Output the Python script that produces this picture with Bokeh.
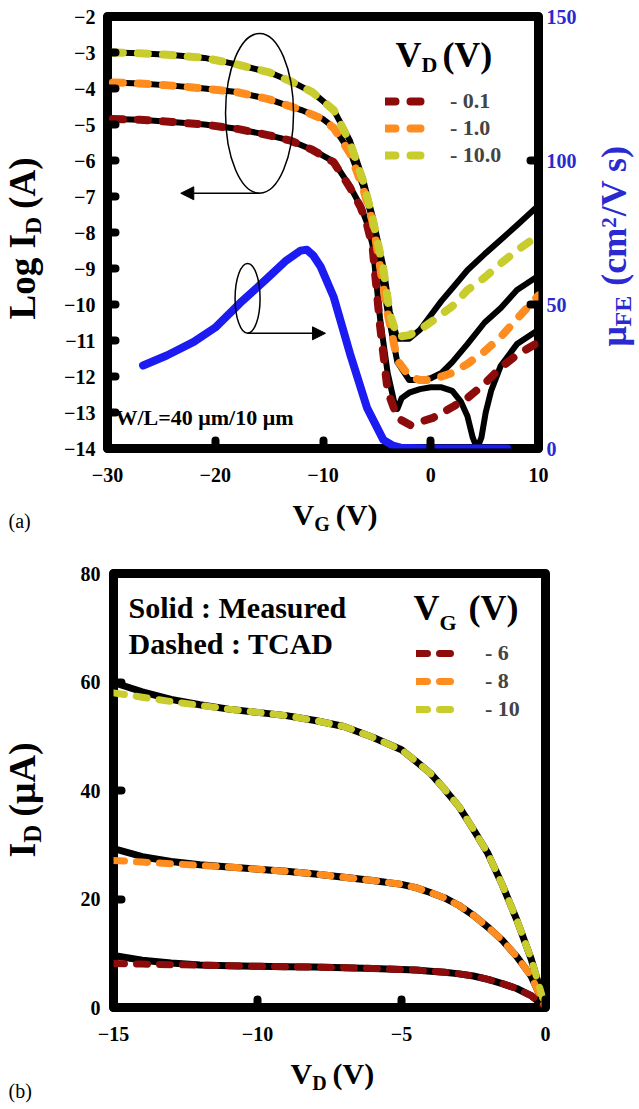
import math
from bokeh.plotting import figure
from bokeh.models import (Range1d, LinearAxis, FixedTicker, Label, Legend, LegendItem,
                          Arrow, NormalHead)
from bokeh.layouts import column, row
from bokeh.embed import file_html
from bokeh.resources import INLINE

FONT = "Liberation Serif"

# ---------------- (a) transfer characteristics ----------------
# V_D = -10 V
vg_m10 = [-29.5, -27, -24, -21, -18, -15, -13, -11, -9, -7.5, -6.3, -5.4, -4.4, -3.8, -3.1, -2, -1, 0, 1, 2, 3.4, 5, 6.5, 8, 10]
log_m10 = [-3.0, -3.02, -3.07, -3.15, -3.33, -3.55, -3.8, -4.1, -4.6, -5.45, -6.5, -7.55, -8.95, -10.2, -10.95, -10.95, -10.7, -10.3, -9.9, -9.55, -9.05, -8.6, -8.2, -7.8, -7.25]
vg_t10 = [-29.5, -27, -24, -21, -18, -15, -13, -11, -9, -7.5, -6.3, -5.4, -4.4, -3.8, -3.1, -2, -1, 0.2, 2, 3.4, 5, 6.5, 8, 10]
log_t10 = [-3.0, -3.02, -3.07, -3.15, -3.33, -3.55, -3.8, -4.1, -4.6, -5.5, -6.55, -7.6, -9.0, -10.25, -10.9, -10.85, -10.7, -10.45, -10.05, -9.6, -9.25, -8.86, -8.5, -8.08]
# V_D = -1.0 V
vg_1 = [-29.5, -27, -24, -21, -18, -15, -12, -10, -9, -7.5, -6.3, -5.4, -5.0, -4.0, -3.1, -2, -1, 0, 1, 2, 3.4, 5, 6.5, 8, 10]
log_m1 = [-3.83, -3.86, -3.92, -4.0, -4.1, -4.3, -4.6, -4.85, -5.08, -5.75, -6.7, -7.65, -8.35, -10.2, -11.6, -12.1, -12.1, -12.05, -11.9, -11.6, -11.1, -10.5, -10.1, -9.6, -9.2]
log_t1 = [-3.83, -3.86, -3.92, -4.0, -4.1, -4.3, -4.6, -4.85, -5.1, -5.8, -6.75, -7.7, -8.4, -10.25, -11.55, -12.0, -12.1, -12.1, -12.0, -11.9, -11.65, -11.3, -10.9, -10.4, -9.75]
# V_D = -0.1 V
vg_m01 = [-29.5, -27, -24, -21, -18, -15, -13, -11, -9, -7.5, -6.5, -5.9, -5.4, -4.7, -4.0, -3.4, -3.1, -2.7, -2, -1, 0, 1, 2, 2.8, 3.4, 3.9, 4.3, 4.7, 5.1, 5.6, 6.5, 8, 10]
log_m01 = [-4.85, -4.87, -4.93, -5.0, -5.12, -5.3, -5.45, -5.7, -6.03, -6.72, -7.27, -7.75, -8.35, -10.4, -11.9, -12.7, -12.9, -12.6, -12.45, -12.35, -12.3, -12.3, -12.4, -12.7, -13.1, -13.7, -14.0, -13.7, -13.0, -12.4, -11.7, -11.1, -10.7]
vg_t01 = [-29.5, -27, -24, -21, -18, -15, -13, -11, -9, -7.5, -6.5, -5.9, -5.4, -4.7, -4.0, -3.1, -1.9, 0.2, 2, 3.4, 5, 6.5, 8, 10]
log_t01 = [-4.85, -4.87, -4.93, -5.0, -5.12, -5.3, -5.45, -5.7, -6.05, -6.75, -7.3, -7.8, -8.4, -10.6, -12.4, -13.15, -13.35, -13.15, -12.85, -12.6, -12.2, -11.75, -11.4, -11.05]
# field-effect mobility (right axis)
vg_mu = [-26.7, -24.5, -22, -20, -17.7, -15.2, -13.5, -12.1, -11.5, -10.9, -10.2, -9.0, -7.5, -5.9, -4.4, -3.5, -2.8, 0, 4, 7.1]
mu = [28.8, 32.3, 37, 42, 50.5, 59, 65, 68.7, 69, 67, 63, 52.5, 33, 14, 3, 1, 0.3, 0, 0, 0]

xticks_a = [-30, -20, -10, 0, 10]
yticks_a = list(range(-14, -1))
mu_ticks = [0, 50, 100, 150]
vd_labels_a = ["- 0.1", "- 1.0", "- 10.0"]

# ---------------- (b) output characteristics ----------------
vd = [-15, -14, -13, -12, -11, -10, -9, -8, -7, -6, -5, -4.5, -4, -3.5, -3, -2.5, -2, -1.5, -1, -0.5, 0]
id_t10 = [58.0, 57.2, 56.4, 55.7, 55.0, 54.4, 53.8, 52.9, 51.8, 49.8, 47.5, 45.4, 43.2, 40.2, 37.0, 32.8, 28.4, 22.6, 16.2, 9.0, 0]
id_m10 = [59.9, 58.2, 56.8, 55.8, 55.0, 54.4, 53.8, 52.9, 51.8, 49.8, 47.5, 45.4, 43.2, 40.2, 37.0, 32.8, 28.4, 22.6, 16.2, 9.0, 0]
id_t8 = [27.1, 26.8, 26.5, 26.2, 25.9, 25.5, 25.1, 24.6, 24.0, 23.4, 22.7, 22.1, 21.2, 20.2, 18.8, 17.0, 14.8, 12.4, 9.4, 5.8, 0]
id_m8 = [29.3, 27.8, 26.9, 26.3, 25.9, 25.5, 25.1, 24.6, 24.0, 23.4, 22.7, 22.1, 21.2, 20.2, 18.8, 17.0, 14.8, 12.4, 9.4, 5.8, 0]
id_t6 = [8.1, 8.0, 7.9, 7.8, 7.7, 7.6, 7.5, 7.45, 7.35, 7.2, 7.0, 6.9, 6.7, 6.5, 6.2, 5.8, 5.2, 4.4, 3.5, 2.2, 0]
id_m6 = [9.6, 8.7, 8.2, 7.85, 7.7, 7.6, 7.5, 7.45, 7.35, 7.2, 7.0, 6.9, 6.7, 6.5, 6.2, 5.8, 5.2, 4.4, 3.5, 2.2, 0]

xticks_b = [-15, -10, -5, 0]
yticks_b = [0, 20, 40, 60, 80]
vg_labels_b = ["- 6", "- 8", "- 10"]

C_RED = "#8e0b0b"
C_ORG = "#ff8c1e"
C_YEL = "#c8cc2c"
C_BLUE = "#1b1bf2"
C_AXBLUE = "#2a2ad0"

# Times/Liberation Serif Bold advance widths (per 1000 em)
WID = {' ': 250, '(': 333, ')': 333, '-': 333, '.': 250, '/': 278, ':': 333, '=': 570,
       'A': 722, 'C': 722, 'D': 722, 'E': 667, 'F': 611, 'G': 778, 'I': 389, 'L': 667,
       'M': 944, 'S': 556, 'T': 667, 'V': 722, 'W': 1000, 'a': 500, 'c': 444, 'd': 556,
       'e': 444, 'g': 500, 'h': 556, 'i': 278, 'l': 278, 'm': 833, 'o': 500, 'r': 444,
       's': 389, 'u': 556, 'μ': 556, 'b': 556}
BASE_FIX = 0.35  # observed offset of the rendered baseline, in em


def tw(s, size):
    return sum(WID.get(ch, 500) for ch in s) * size / 1000.0


def rich(p, x, y, parts, angle=0.0, color="black", style="bold"):
    """(x, y): wanted baseline start in screen px of the frame (y up)."""
    c, s = math.cos(angle), math.sin(angle)
    pos = 0.0
    for text, size, shift, gap in parts:
        up = shift + BASE_FIX * size
        lx = x + pos * c - up * s
        ly = y + pos * s + up * c
        p.add_layout(Label(x=lx, y=ly, x_units="screen", y_units="screen", text=text,
                           angle=angle, text_font=FONT, text_font_style=style,
                           text_font_size=f"{size}px", text_color=color,
                           text_baseline="alphabetic", text_align="left"))
        pos += tw(text, size) + gap


def style_axis(ax, ticks, color="black", standoff=10):
    ax.ticker = FixedTicker(ticks=ticks)
    ax.axis_line_color = None
    ax.major_tick_in = 8
    ax.major_tick_out = 0
    ax.major_tick_line_width = 8
    ax.major_tick_line_cap = "round"
    ax.major_tick_line_color = "black"
    ax.minor_tick_line_color = None
    ax.major_label_text_font = FONT
    ax.major_label_text_font_style = "bold"
    ax.major_label_text_font_size = "20px"
    ax.major_label_text_color = color
    ax.major_label_standoff = standoff


def base_fig(fw, fh, xr, yr, bl, br, bt, bb):
    p = figure(frame_width=fw, frame_height=fh, x_range=Range1d(*xr), y_range=Range1d(*yr),
               output_backend="svg", toolbar_location=None,
               min_border_left=bl, min_border_right=br, min_border_top=bt, min_border_bottom=bb)
    p.xgrid.visible = False
    p.ygrid.visible = False
    p.outline_line_color = "black"
    p.outline_line_width = 9
    p.outline_line_join = "round"
    p.background_fill_color = "white"
    p.border_fill_color = "white"
    return p


def text_fig(w, h):
    f = figure(frame_width=w, frame_height=h, x_range=Range1d(0, 1), y_range=Range1d(0, 1),
               x_axis_location=None, y_axis_location=None, output_backend="svg",
               toolbar_location=None, min_border=0)
    f.grid.grid_line_color = None
    f.grid.visible = False
    f.outline_line_color = None
    f.background_fill_color = "white"
    f.border_fill_color = "white"
    return f


# ================= figure (a) =================
p1 = base_fig(431, 432, (-30, 10), (-14, -2), 52, 55, 16, 50)
style_axis(p1.xaxis[0], xticks_a, standoff=19)
style_axis(p1.yaxis[0], yticks_a, standoff=12)
p1.extra_y_ranges = {"mu": Range1d(0, 150)}
ax_r = LinearAxis(y_range_name="mu")
style_axis(ax_r, mu_ticks, color=C_AXBLUE, standoff=8)
p1.add_layout(ax_r, "right")

for xs, ys in [(vg_m10, log_m10), (vg_1, log_m1), (vg_m01, log_m01)]:
    p1.line(xs, ys, line_color="black", line_width=6, line_cap="round", line_join="round")
dash_a = "10 15"
r01 = p1.line(vg_t01, log_t01, line_color=C_RED, line_width=8, line_dash=dash_a, line_cap="round")
r1 = p1.line(vg_1, log_t1, line_color=C_ORG, line_width=8, line_dash=dash_a, line_cap="round")
r10 = p1.line(vg_t10, log_t10, line_color=C_YEL, line_width=8, line_dash=dash_a, line_cap="round")
p1.line(vg_mu, mu, y_range_name="mu", line_color=C_BLUE, line_width=8, line_cap="round", line_join="round")

# annotation ellipses and arrows
ell_x = [-15.89, -17.0]
ell_y = [-4.69, -9.83]
ell_w = [6.31, 2.32]
ell_h = [4.44, 1.94]
p1.ellipse(x=ell_x, y=ell_y, width=ell_w, height=ell_h, fill_color=None,
           line_color="black", line_width=1.5)
p1.add_layout(Arrow(end=NormalHead(size=13, fill_color="black", line_color="black"),
                    x_start=-15.89, y_start=-6.91, x_end=-23.2, y_end=-6.91,
                    line_color="black", line_width=1.5))
p1.add_layout(Arrow(end=NormalHead(size=13, fill_color="black", line_color="black"),
                    x_start=-17.0, y_start=-10.8, x_end=-9.77, y_end=-10.8,
                    line_color="black", line_width=1.5))

leg1 = Legend(items=[LegendItem(label=vd_labels_a[0], renderers=[r01]),
                     LegendItem(label=vd_labels_a[1], renderers=[r1]),
                     LegendItem(label=vd_labels_a[2], renderers=[r10])],
              location=(278, 280), glyph_width=44, glyph_height=20, label_height=20,
              spacing=1, padding=0, margin=0, label_standoff=21,
              background_fill_alpha=0, border_line_alpha=0,
              label_text_font=FONT, label_text_font_style="bold", label_text_font_size="22px")
p1.add_layout(leg1)

rich(p1, 288, 381, [("V", 36, 0, 0), ("D", 22, -5, 5), ("(V)", 36, 0, 0)])
rich(p1, 8, 23, [("W/L=40 μm/10 μm", 22, 0, 0)])

# text strips around (a)   (p1 height = 16 + 432 + 50 = 498)
left_a = text_fig(55, 498)
rich(left_a, 35, 195, [("Log I", 37, 0, 0), ("D", 24, -6, 8), ("(A)", 37, 0, 0)], angle=math.pi / 2)
right_a = text_fig(44, 498)
rich(right_a, 33, 168, [("μ", 36, 0, 0), ("FE", 24, -5, 10), ("(cm", 36, 0, 0), ("2", 21, 10, 1),
                        ("/V s)", 36, 0, 0)], angle=math.pi / 2, color=C_AXBLUE)
below_a = text_fig(637, 42)
rich(below_a, 292, 16, [("V", 30, 0, 0), ("G", 20, -6, 6), ("(V)", 30, 0, 0)])
rich(below_a, 8, 13, [("(a)", 20, 0, 0)], style="normal")

# ================= figure (b) =================
p2 = base_fig(432, 434, (-15, 0), (0, 80), 63, 92, 33, 44)
style_axis(p2.xaxis[0], xticks_b, standoff=19)
style_axis(p2.yaxis[0], yticks_b, standoff=13)

for ys in [id_m6, id_m8, id_m10]:
    p2.line(vd, ys, line_color="black", line_width=7, line_cap="round", line_join="round")
dash_b = "11 12"
s6 = p2.line(vd, id_t6, line_color=C_RED, line_width=7, line_dash=dash_b, line_cap="round")
s8 = p2.line(vd, id_t8, line_color=C_ORG, line_width=7, line_dash=dash_b, line_cap="round")
s10 = p2.line(vd, id_t10, line_color=C_YEL, line_width=7, line_dash=dash_b, line_cap="round")

leg2 = Legend(items=[LegendItem(label=vg_labels_b[0], renderers=[s6]),
                     LegendItem(label=vg_labels_b[1], renderers=[s8]),
                     LegendItem(label=vg_labels_b[2], renderers=[s10])],
              location=(303, 285), glyph_width=38, glyph_height=20, label_height=20,
              spacing=2, padding=0, margin=0, label_standoff=31,
              background_fill_alpha=0, border_line_alpha=0,
              label_text_font=FONT, label_text_font_style="bold", label_text_font_size="22px")
p2.add_layout(leg2)

rich(p2, 15, 390, [("Solid : Measured", 30, 0, 0)])
rich(p2, 15, 354, [("Dashed : TCAD", 30, 0, 0)])
rich(p2, 300, 387, [("V", 36, 0, 0), ("G", 22, -10, 12), ("(V)", 36, 0, 0)])

# text strips around (b)   (p2 height = 33 + 434 + 44 = 511)
left_b = text_fig(50, 511)
rich(left_b, 35, 227, [("I", 38, 0, 0), ("D", 25, -6, 8), ("(μA)", 38, 0, 0)], angle=math.pi / 2)
below_b = text_fig(637, 54)
rich(below_b, 290, 22, [("V", 30, 0, 0), ("D", 20, -6, 6), ("(V)", 30, 0, 0)])
rich(below_b, 8, 8, [("(b)", 20, 0, 0)], style="normal")

layout = column(row(left_a, p1, right_a, spacing=0), below_a,
                row(left_b, p2, spacing=0), below_b, spacing=0)
open("out.html", "w").write(file_html(layout, INLINE))
